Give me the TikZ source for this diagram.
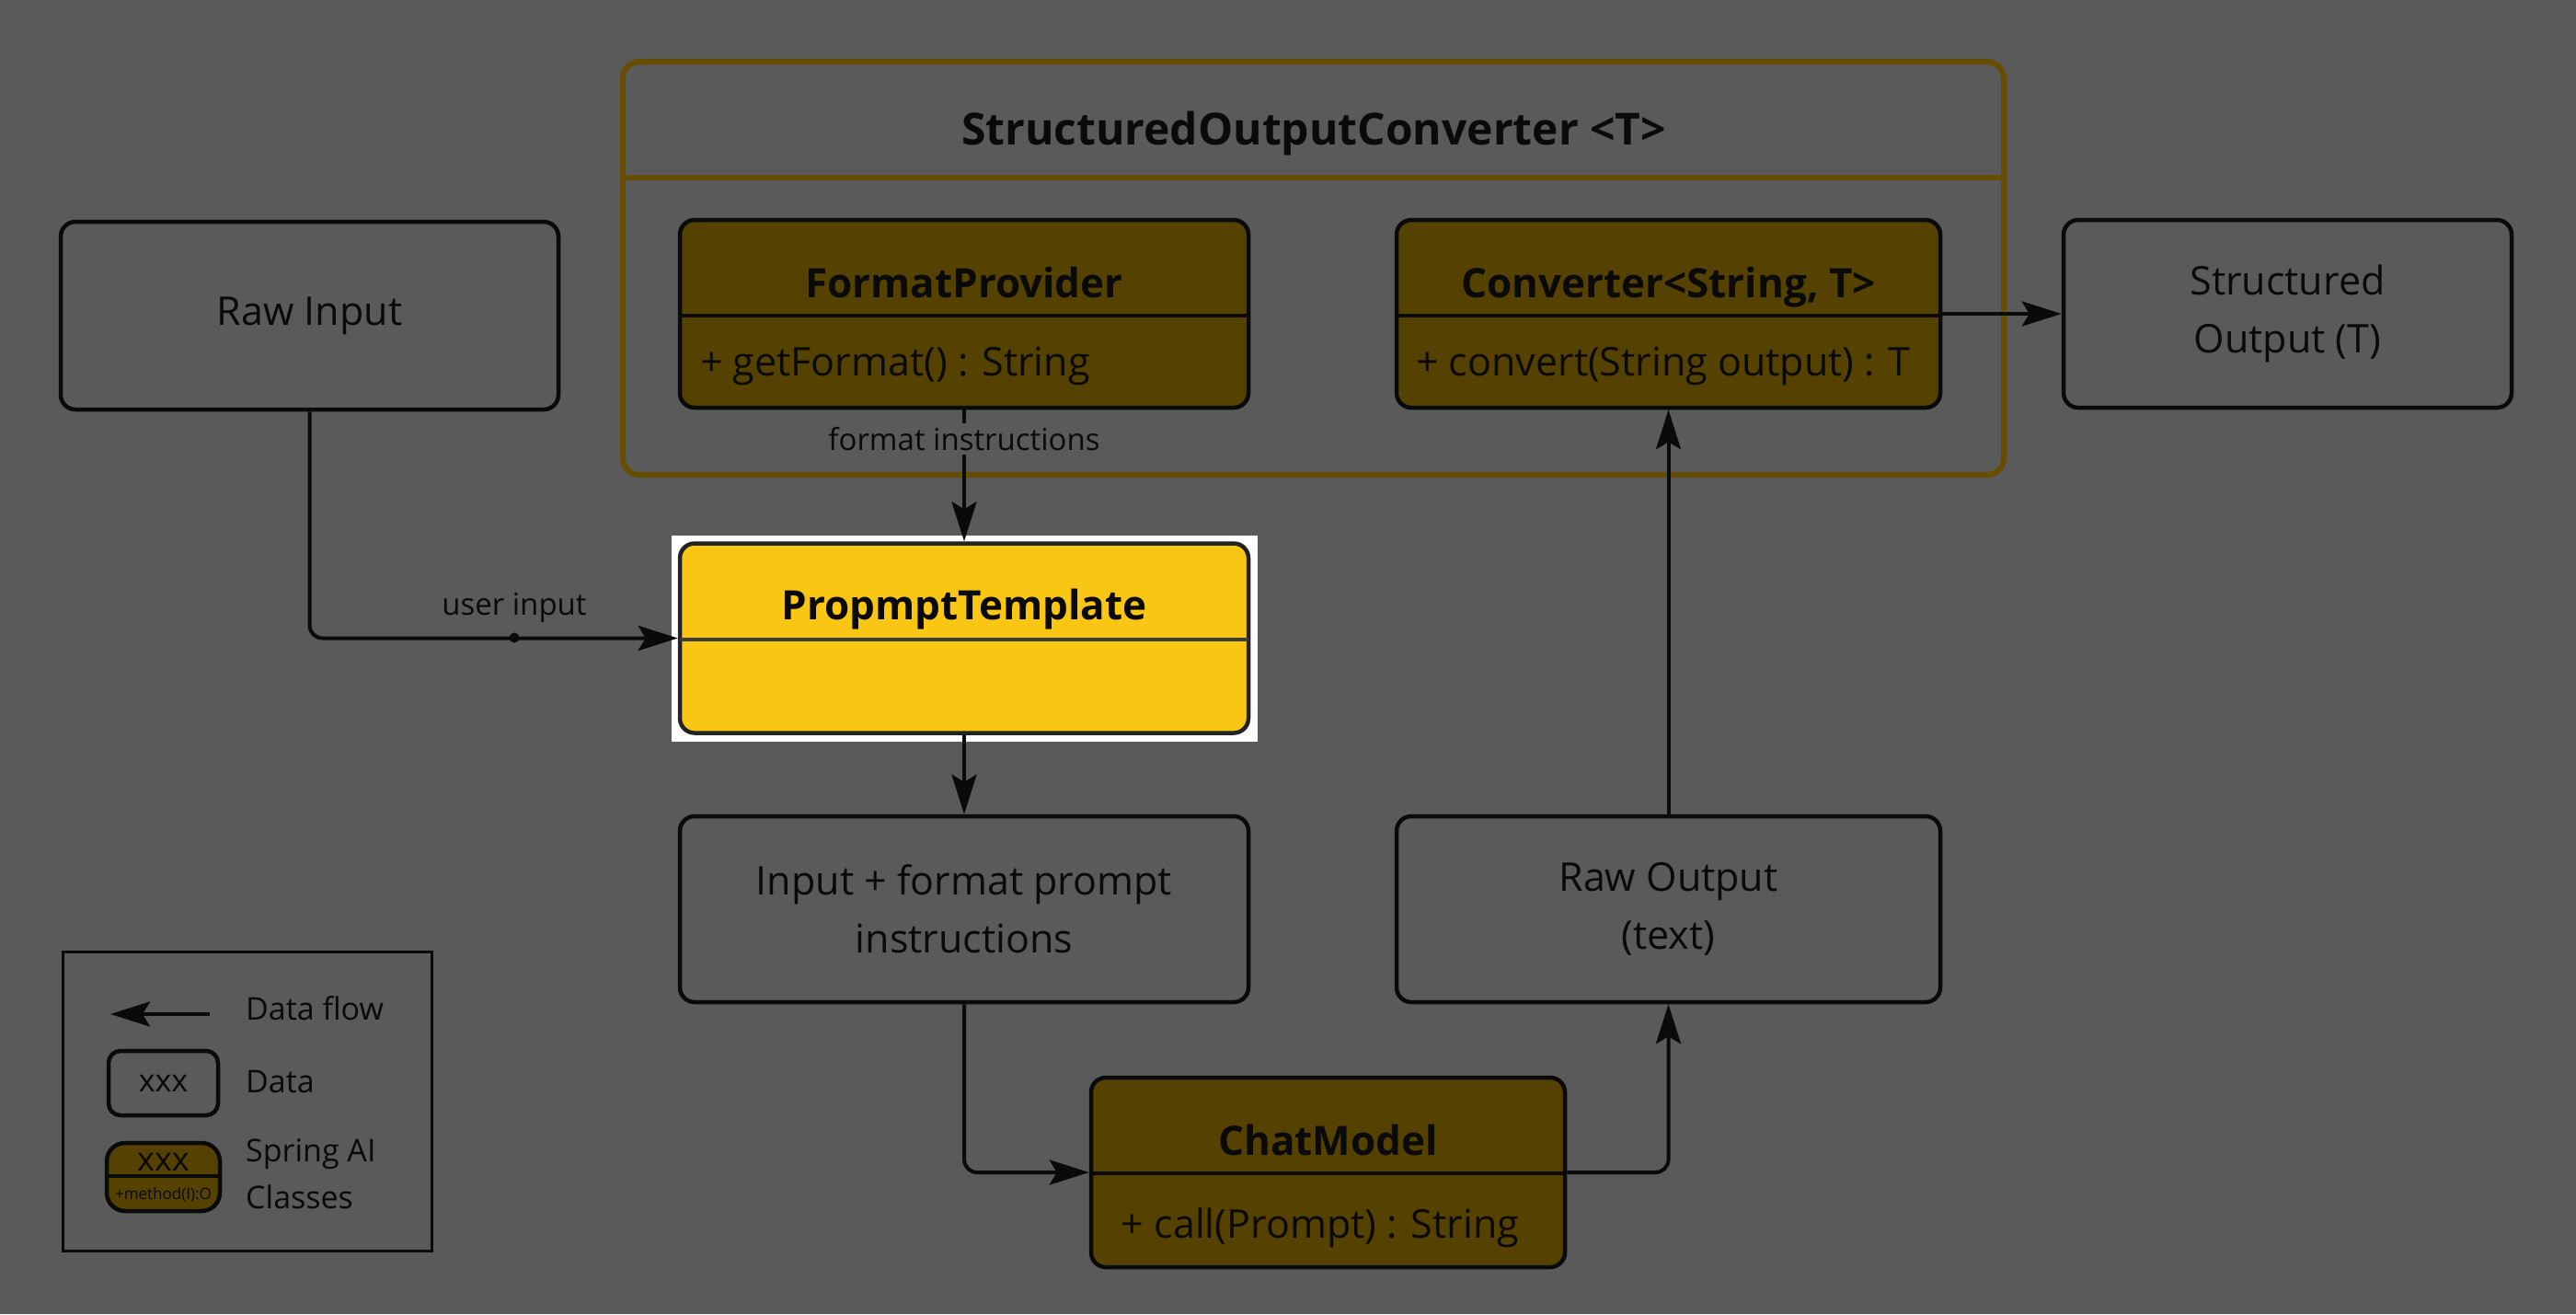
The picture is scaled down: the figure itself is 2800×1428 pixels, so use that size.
\documentclass[tikz,border=0pt]{standalone}
\usepackage{fontspec}
\setmainfont{Open Sans}
\usetikzlibrary{arrows.meta}
\definecolor{bgc}{HTML}{5A5A5A}
\definecolor{ink}{HTML}{0A0A0A}
\definecolor{olivefill}{HTML}{554100}
\definecolor{olivedraw}{HTML}{664D00}
\definecolor{ptyellow}{HTML}{F9C713}
\newcommand\myfN{\fontsize{43}{63}\selectfont}
\newcommand\myfM{\fontsize{43}{58}\selectfont}
\newcommand\myfT{\fontsize{44}{60}\selectfont\bfseries}
\newcommand\myfH{\fontsize{48}{64}\selectfont\bfseries}
\newcommand\myfL{\fontsize{33}{44}\selectfont}
\newcommand\myfG{\fontsize{34}{51}\selectfont}
\newcommand\myfS{\fontsize{17}{22}\selectfont}
\begin{document}
\begin{tikzpicture}[x=1pt,y=-1pt,
  every node/.style={text=ink},
  box/.style={draw=ink, line width=4.5pt, rounded corners=16pt, inner sep=0pt},
  databox/.style={box, font=\myfN, align=center},
  classbox/.style={box, fill=olivefill},
  divl/.style={draw=ink, line width=4.5pt},
  ttl/.style={font=\myfT, inner sep=0pt, anchor=base},
  mth/.style={font=\myfM, inner sep=0pt},
  lbl/.style={font=\myfL, inner sep=4pt, fill=bgc},
  lgt/.style={font=\myfG, inner sep=0pt, anchor=base west},
  arr/.style={draw=ink, line width=4pt, rounded corners=14pt,
    -{Stealth[length=43pt,width=27pt,inset=8pt]}},
]
\fill[bgc] (0,0) rectangle (2800,1428);
\useasboundingbox (0,0) rectangle (2800,1428);

% container
\node[draw=olivedraw, line width=6pt, rounded corners=18pt, inner sep=0pt,
  minimum width=1501, minimum height=449] (sc) at (1427.5,291.5) {};
\draw[draw=olivedraw, line width=6pt] (677,193) -- (2178,193);
\node[font=\myfH, inner sep=0pt, anchor=base] (scT) at (1428,157) {StructuredOutputConverter <T>};

% highlight behind prompt template
\fill[white] (730,582) rectangle (1367,806);

% data boxes
\node[databox, minimum width=541, minimum height=204] (raw) at (336.5,343) {Raw Input};
\node[databox, minimum width=487, minimum height=204] (so) at (2486.5,341) {Structured\\Output (T)};
\node[databox, minimum width=618, minimum height=202] (inp) at (1048,988) {Input + format prompt\\instructions};
\node[databox, minimum width=591, minimum height=202] (rout) at (1813.5,988) {Raw Output\\(text)};

% class boxes
\node[classbox, minimum width=618, minimum height=204] (fp) at (1048,341) {};
\draw[divl] (739,343) -- (1357,343);
\node[ttl] (fpT) at (1048,323) {FormatProvider};
\node[mth, anchor=base west] (fpM) at (761,408) {+ getFormat() : String};

\node[classbox, minimum width=591, minimum height=204] (conv) at (1813.5,341) {};
\draw[divl] (1518,343) -- (2109,343);
\node[ttl] (cvT) at (1813.5,323) {Converter<String, T>};
\node[mth, anchor=base west] (cvM) at (1539,408) {+ convert(String output) : T};

\node[box, fill=ptyellow, draw=ink!90, minimum width=618, minimum height=206] (pt) at (1048,693.5) {};
\draw[divl, draw=ink!80] (739,695) -- (1357,695);
\node[ttl] (ptT) at (1048,673) {PropmptTemplate};

\node[classbox, minimum width=515, minimum height=206] (cm) at (1443.5,1274) {};
\draw[divl] (1186,1275) -- (1701,1275);
\node[ttl] (cmT) at (1443.5,1255) {ChatModel};
\node[mth, anchor=base] (cmM) at (1435,1345) {+ call(Prompt) : String};

% connectors
\draw[arr] (raw.south) |- (pt.west);
\node[circle, fill=ink, inner sep=0pt, minimum size=11pt] (uid) at (559,693) {};
\node[font=\myfL, inner sep=0pt, anchor=base] (uil) at (559,668) {user input};
\draw[arr] (fp.south) -- (pt.north);
\node[lbl] (fil) at (1048,477) {format instructions};
\draw[arr] (pt.south) -- (inp.north);
\draw[arr] (inp.south) |- (cm.west);
\draw[arr] (cm.east) -| (rout.south);
\draw[arr] (rout.north) -- (conv.south);
\draw[arr] (conv.east) -- (so.west);

% legend
\node[draw=ink, line width=3pt, inner sep=0pt, minimum width=401, minimum height=325] (leg) at (268.5,1196.5) {};
\coordinate (la1) at (228,1102);
\coordinate (la2) at (120,1102);
\draw[arr] (la1) -- (la2);
\node[lgt] (l1) at (267,1108) {Data flow};
\node[box, rounded corners=13pt, minimum width=119, minimum height=70, font=\myfG] (ld) at (177.5,1177) {xxx};
\node[lgt] (l2) at (267,1187) {Data};
\node[classbox, rounded corners=20pt, minimum width=123, minimum height=74] (ls) at (177.5,1279) {};
\draw[divl] (116,1278) -- (239,1278);
\node[font=\fontsize{36}{44}\selectfont, inner sep=0pt, anchor=base] (lsT) at (177.5,1272) {xxx};
\node[font=\myfS, inner sep=0pt, anchor=base] (lsM) at (177.5,1303) {+method(I):O};
\node[lgt] (l3) at (267,1262) {Spring AI};
\node[lgt] (l4) at (267,1313) {Classes};
\end{tikzpicture}
\end{document}
